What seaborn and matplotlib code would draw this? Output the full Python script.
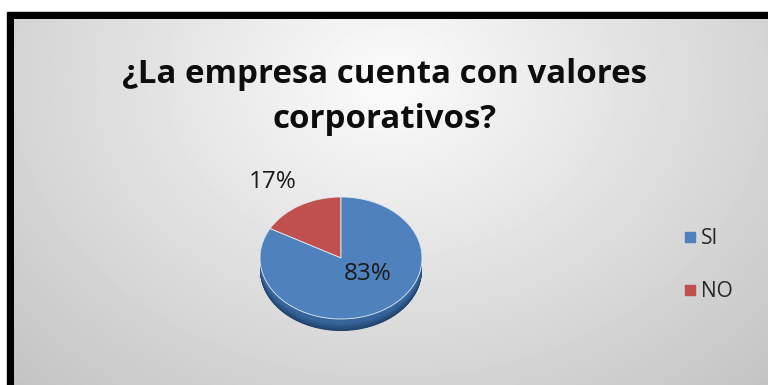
import numpy as np
import matplotlib
matplotlib.use("Agg")
import matplotlib.pyplot as plt
from matplotlib.patches import Rectangle
from matplotlib.lines import Line2D
from matplotlib.colors import to_rgb
import seaborn as sns

# Chart content
title_lines = ["¿La empresa cuenta con valores", "corporativos?"]
categories = ["SI", "NO"]
shares = [83, 17]
top_colors = ["#4F81BD", "#C0504D"]
side_top = ["#36649B", "#8E3A38"]
side_bottom = ["#21426A", "#5E2624"]

sns.set_theme(style="white")
plt.rcParams["font.family"] = ["Open Sans", "DejaVu Sans"]

W, H = 768, 385
fig = plt.figure(figsize=(W / 100, H / 100), dpi=100)

# Background canvas in pixel coordinates
bg = fig.add_axes([0, 0, 1, 1])
bg.set_xlim(0, W)
bg.set_ylim(H, 0)
bg.axis("off")
bg.add_patch(Rectangle((0, 0), W, H, color="white", zorder=0))
bg.add_patch(Rectangle((7, 12), W, H, color="black", zorder=1))

yy, xx = np.mgrid[19:H, 14:W].astype(float)
d = np.sqrt(((xx - 390) / 420) ** 2 + ((yy - 80) / 330) ** 2)
shade = np.clip(0.985 - 0.17 * d, 0, 1)
bg.imshow(shade, extent=(14, W, H, 19), cmap="gray", vmin=0, vmax=1,
          interpolation="bilinear", aspect="auto", zorder=2)

for line, base in zip(title_lines, [83, 128]):
    bg.text(385, base, line, ha="center", va="baseline", fontsize=23.8,
            fontweight="bold", color="#0d0d0d", zorder=3)

# Pie drawn in an axes whose units are squashed vertically for a tilted look
rx, ry, depth = 81.0, 61.0, 12.0
cx, cy = 341.0, 258.0
pad = 1.1
depth_u = depth / ry
left = cx - pad * rx
top = cy - pad * ry
width = 2 * pad * rx
height = (2 * pad + depth_u) * ry
ax = fig.add_axes([left / W, (H - (top + height)) / H, width / W, height / H])

order = [1, 0]  # NO first, counterclockwise from 12 o'clock
vals = [shares[i] for i in order]

# side wall: stacked copies shifted downward
n_layers = 30
for k, off in enumerate(np.linspace(depth_u, 0, n_layers)):
    t = k / (n_layers - 1)
    cols = []
    for i in order:
        a = np.array(to_rgb(side_bottom[i]))
        b = np.array(to_rgb(side_top[i]))
        cols.append(tuple(a + (b - a) * min(1, t * 1.6)))
    ax.pie(vals, colors=cols, startangle=90, counterclock=True,
           center=(0, -off), radius=1.0, wedgeprops=dict(linewidth=0))

ax.pie(vals, colors=[top_colors[i] for i in order], startangle=90,
       counterclock=True, radius=1.0,
       wedgeprops=dict(linewidth=0.6, edgecolor="#E8EEF6"))

ax.set_aspect("auto")
ax.set_xlim(-pad, pad)
ax.set_ylim(-pad - depth_u, pad)
ax.axis("off")

# percentage labels
ax.text(-0.84, 1.24, f"{shares[1]}%", ha="center", va="center",
        fontsize=17.5, color="#1a1a1a", clip_on=False)
ax.text(0.33, -0.27, f"{shares[0]}%", ha="center", va="center",
        fontsize=17.5, color="#1a1a1a", clip_on=False)

handles = [Line2D([], [], marker="s", linestyle="", markersize=7,
                  color=c) for c in top_colors]
fig.legend(handles, categories, loc="center left",
           bbox_to_anchor=(672 / W, 1 - 265 / H), frameon=False,
           fontsize=15, handlelength=0.7, handletextpad=0.2,
           labelspacing=1.55, borderpad=0)

fig.savefig("out.png", dpi=100)
